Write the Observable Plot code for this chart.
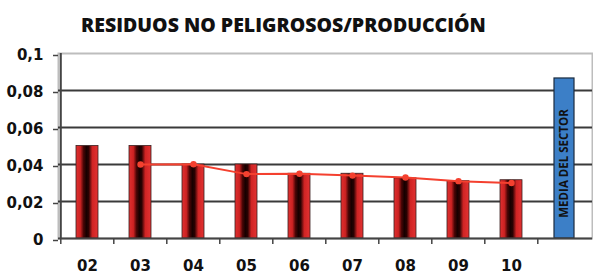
<!DOCTYPE html>
<html>
<head>
<meta charset="utf-8">
<script src="https://cdn.jsdelivr.net/npm/d3@7"></script>
<script src="https://cdn.jsdelivr.net/npm/@observablehq/plot@0.6"></script>
<style>
  html, body { margin: 0; padding: 0; background: #fff; }
  #wrap { position: relative; width: 593px; height: 275px; }
  #title { position: absolute; left: 0; top: 12px; width: 567px; text-align: center;
           font-family: "Open Sans", sans-serif; font-weight: 800; font-size: 19.5px;
           line-height: 26px; color: #111; letter-spacing: 0px; z-index: 2; }
</style>
</head>
<body>
<div id="wrap"><div id="title">RESIDUOS NO PELIGROSOS/PRODUCCIÓN</div></div>
<script>
const years = ["02", "03", "04", "05", "06", "07", "08", "09", "10"];
const ratio = [0.05, 0.05, 0.04, 0.04, 0.035, 0.035, 0.0325, 0.031, 0.0315];
const trendYears = ["03", "04", "05", "06", "07", "08", "09", "10"];
const trend = [0.04, 0.0401, 0.0348, 0.035, 0.034, 0.033, 0.031, 0.030];
const sectorKey = "MEDIA";
const sectorLabel = "MEDIA DEL SECTOR";
const sectorAvg = 0.0865;
const yTicks = [0, 0.02, 0.04, 0.06, 0.08, 0.1];
const gridTicks = [0.02, 0.04, 0.06, 0.08];

const categories = [...years, sectorKey];
const bars = years.map((k, i) => ({k, v: ratio[i]}));
const trendData = trendYears.map((k, i) => ({k, v: trend[i]}));
const sector = [{k: sectorKey, v: sectorAvg, label: sectorLabel}];

const W = 593, H = 275, mL = 58, mR = 1, mT = 53, mB = 37;
const step = (W - mL - mR) / categories.length;
const pad = 0.588;

const chart = Plot.plot({
  width: W, height: H,
  marginLeft: mL, marginRight: mR, marginTop: mT, marginBottom: mB,
  style: {fontFamily: "DejaVu Sans", fontWeight: "bold", fontSize: "15px", color: "#111", background: "transparent"},
  x: {domain: categories, paddingInner: pad, paddingOuter: pad / 2, axis: null, label: null},
  y: {domain: [0, 0.1], axis: null, label: null},
  marks: [
    Plot.frame({stroke: "#bdbdbd", strokeWidth: 2}),
    Plot.ruleY(gridTicks, {stroke: "#3a3a3a", strokeWidth: 2}),
    Plot.barY(bars, {x: "k", y: "v", fill: "url(#redGrad)", stroke: "#3a2020", strokeWidth: 0.8}),
    Plot.barY(sector, {x: "k", y: "v", fill: "#3c7fc7", stroke: "#1b2b3f", strokeWidth: 1.2, insetLeft: 1, insetRight: 1}),
    Plot.text(sector, {x: "k", y: d => d.v / 2, text: "label", rotate: -90, fontSize: 11.5, fontWeight: "bold",
      fontFamily: "Open Sans", fill: "#111", dy: 5}),
    Plot.line(trendData, {x: "k", y: "v", stroke: "#f4402f", strokeWidth: 2}),
    Plot.dot(trendData, {x: "k", y: "v", r: 3.2, fill: "#f4402f"}),
    Plot.axisY({ticks: yTicks, label: null, tickSize: 5, tickPadding: 10, stroke: "#444", strokeWidth: 1.5,
      fontWeight: "bold", fontSize: 15, fill: "#111",
      tickFormat: d => d === 0 ? "0" : String(d).replace(".", ","), dy: 2}),
    Plot.ruleX([categories[0]], {x: d => d, dx: -step / 2, stroke: "#444", strokeWidth: 2}),
    Plot.ruleY([0], {stroke: "#444", strokeWidth: 1.8}),
    Plot.ruleX(categories, {x: d => d, dx: -step / 2, y1: 0, y2: 0, insetTop: 6, stroke: "#444", strokeWidth: 1.5}),
    Plot.axisX({label: null, tickSize: 0, tickPadding: 22, fontWeight: "bold", fontSize: 15, fill: "#111",
      tickFormat: d => d === sectorKey ? "" : d})
  ]
});

const ns = "http://www.w3.org/2000/svg";
const defs = document.createElementNS(ns, "defs");
const grad = document.createElementNS(ns, "linearGradient");
grad.setAttribute("id", "redGrad");
grad.setAttribute("x1", "0"); grad.setAttribute("x2", "1");
grad.setAttribute("y1", "0"); grad.setAttribute("y2", "0");
[[0, "#e03030"], [0.2, "#cc2222"], [0.34, "#4a0606"], [0.47, "#160000"], [0.58, "#2a0202"], [0.74, "#cf2424"], [1, "#e33232"]]
  .forEach(([o, c]) => {
    const s = document.createElementNS(ns, "stop");
    s.setAttribute("offset", o); s.setAttribute("stop-color", c);
    grad.appendChild(s);
  });
defs.appendChild(grad);
chart.insertBefore(defs, chart.firstChild);
document.getElementById("wrap").prepend(chart);
</script>
</body>
</html>
